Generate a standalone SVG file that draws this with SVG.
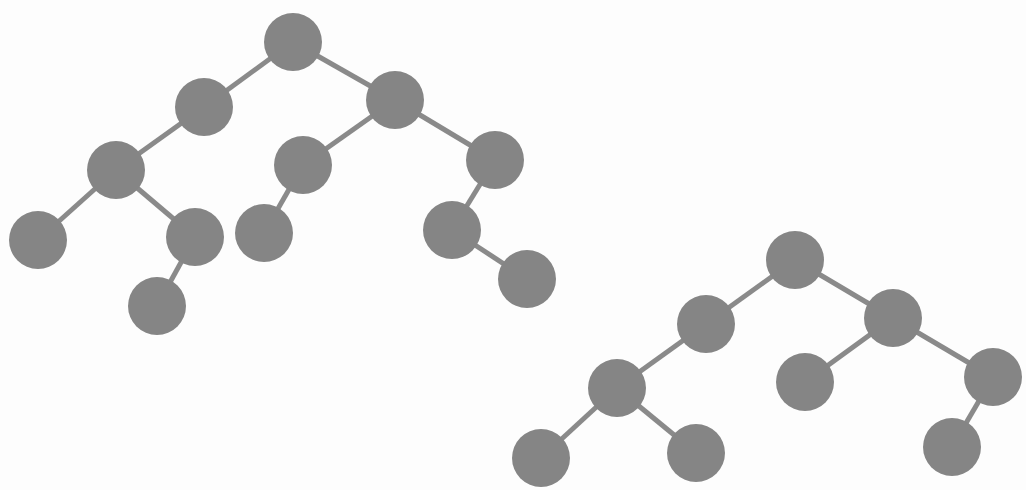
<svg xmlns="http://www.w3.org/2000/svg" width="1026" height="490" viewBox="0 0 1026 490">
<style>
.n{fill:#858585}
.e line{stroke:#8a8a8a;stroke-width:5}
</style>
<rect width="1026" height="490" fill="#fdfdfd"/>
<g id="connectors" class="e">
<line x1="293" y1="42" x2="204" y2="107"/>
<line x1="293" y1="42" x2="395" y2="100"/>
<line x1="204" y1="107" x2="116" y2="170"/>
<line x1="116" y1="170" x2="38" y2="240"/>
<line x1="116" y1="170" x2="195" y2="237"/>
<line x1="195" y1="237" x2="157" y2="306"/>
<line x1="395" y1="100" x2="303" y2="165"/>
<line x1="303" y1="165" x2="264" y2="233"/>
<line x1="395" y1="100" x2="495" y2="160"/>
<line x1="495" y1="160" x2="452" y2="230"/>
<line x1="452" y1="230" x2="527" y2="279"/>
<line x1="795" y1="260" x2="706" y2="324"/>
<line x1="795" y1="260" x2="893" y2="318"/>
<line x1="706" y1="324" x2="617" y2="388"/>
<line x1="617" y1="388" x2="541" y2="458"/>
<line x1="617" y1="388" x2="696" y2="453"/>
<line x1="893" y1="318" x2="805" y2="382"/>
<line x1="893" y1="318" x2="993" y2="377"/>
<line x1="993" y1="377" x2="952" y2="447"/>
</g>
<g id="t1-root"><circle class="n" cx="293" cy="42" r="29"/></g>
<g id="t1-a"><circle class="n" cx="204" cy="107" r="29"/></g>
<g id="t1-b"><circle class="n" cx="395" cy="100" r="29"/></g>
<g id="t1-c"><circle class="n" cx="116" cy="170" r="29"/></g>
<g id="t1-d"><circle class="n" cx="38" cy="240" r="29"/></g>
<g id="t1-e"><circle class="n" cx="195" cy="237" r="29"/></g>
<g id="t1-f"><circle class="n" cx="157" cy="306" r="29"/></g>
<g id="t1-g"><circle class="n" cx="303" cy="165" r="29"/></g>
<g id="t1-h"><circle class="n" cx="264" cy="233" r="29"/></g>
<g id="t1-i"><circle class="n" cx="495" cy="160" r="29"/></g>
<g id="t1-j"><circle class="n" cx="452" cy="230" r="29"/></g>
<g id="t1-k"><circle class="n" cx="527" cy="279" r="29"/></g>
<g id="t2-root"><circle class="n" cx="795" cy="260" r="29"/></g>
<g id="t2-a"><circle class="n" cx="706" cy="324" r="29"/></g>
<g id="t2-b"><circle class="n" cx="893" cy="318" r="29"/></g>
<g id="t2-c"><circle class="n" cx="617" cy="388" r="29"/></g>
<g id="t2-d"><circle class="n" cx="541" cy="458" r="29"/></g>
<g id="t2-e"><circle class="n" cx="696" cy="453" r="29"/></g>
<g id="t2-f"><circle class="n" cx="805" cy="382" r="29"/></g>
<g id="t2-g"><circle class="n" cx="993" cy="377" r="29"/></g>
<g id="t2-h"><circle class="n" cx="952" cy="447" r="29"/></g>
</svg>
